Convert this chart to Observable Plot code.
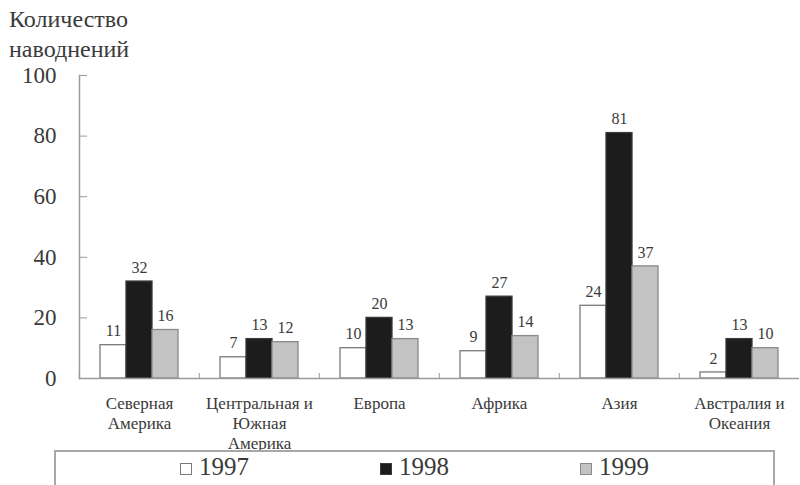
<!DOCTYPE html>
<html>
<head>
<meta charset="utf-8">
<script src="https://cdn.jsdelivr.net/npm/d3@7"></script>
<script src="https://cdn.jsdelivr.net/npm/@observablehq/plot@0.6"></script>
<style>
  body { margin: 0; background: #fff; font-family: "Liberation Serif", "Times New Roman", Tinos, "DejaVu Serif", serif; color: #3a3a3a; }
  #wrap { position: relative; width: 800px; height: 485px; overflow: hidden; }
  #chart { position: absolute; left: 0; top: 0; }
  #title { position: absolute; left: 9px; top: 4px; font-size: 24px; line-height: 30px; }
  #legend { position: absolute; left: 54px; top: 450px; width: 717px; height: 60px; background: #fff;
            border: 2px solid #a8a8a8; display: flex; justify-content: center; }
  .item { width: 200px; text-align: center; font-size: 25px; line-height: 30px; }
  .sw { display: inline-block; width: 12px; height: 12px; margin-right: 7px; vertical-align: 0px; box-sizing: border-box; }
</style>
</head>
<body>
<div id="wrap">
  <div id="chart"></div>
  <div id="title">Количество<br>наводнений</div>
  <div id="legend"></div>
</div>
<script>
// Number of floods by region, 1997–1999
const regions = ["Северная Америка", "Центральная и Южная Америка", "Европа", "Африка", "Азия", "Австралия и Океания"];
const regionLabels = ["Северная\nАмерика", "Центральная и\nЮжная\nАмерика", "Европа", "Африка", "Азия", "Австралия и\nОкеания"];
const years = ["1997", "1998", "1999"];
const floods1997 = [11, 7, 10, 9, 24, 2];
const floods1998 = [32, 13, 20, 27, 81, 13];
const floods1999 = [16, 12, 13, 14, 37, 10];
const yTicks = [0, 20, 40, 60, 80, 100];

const fills = ["#ffffff", "#1c1c1c", "#c3c3c3"];
const strokes = ["#7a7a7a", "#3a3a3a", "#8a8a8a"];

const series = [floods1997, floods1998, floods1999];
const data = [];
regions.forEach((r, i) => years.forEach((y, j) => data.push({region: r, year: y, value: series[j][i]})));

const labelOf = new Map(regions.map((r, i) => [r, regionLabels[i]]));
const textColor = "#3a3a3a";
const axisColor = "#9a9a9a";
const serif = "'Liberation Serif', 'Times New Roman', Tinos, 'DejaVu Serif', serif";

const chart = Plot.plot({
  width: 800,
  height: 462,
  marginTop: 75,
  marginBottom: 84,
  marginLeft: 78,
  marginRight: 0,
  style: {fontFamily: serif, color: textColor, background: "white"},
  fx: {domain: regions, padding: 0, label: null},
  x: {domain: years, paddingInner: 0, paddingOuter: 0.757, axis: null},
  y: {domain: [0, 100], label: null},
  color: {domain: years, range: fills},
  marks: [
    // tick labels of the value axis
    Plot.axisY({ticks: yTicks, tickSize: 0, tickPadding: 23, fontSize: 23, fill: textColor, label: null}),
    // short inward ticks of the value axis
    Plot.axisY({ticks: yTicks, tickSize: 8, dx: 8, fill: "none", stroke: axisColor, label: null}),
    // value axis line, drawn once at the left
    Plot.frame({anchor: "left", facetAnchor: "left", stroke: axisColor, strokeWidth: 1.5}),
    // region names under each group
    Plot.axisFx({anchor: "bottom", tickSize: 0, tickPadding: 16, fontSize: 17, lineHeight: 1.18, tickFormat: d => labelOf.get(d), fill: textColor, label: null}),
    // small ticks between region groups
    Plot.axisFx({anchor: "bottom", tickSize: 5, dy: -5, dx: -60.2, fill: "none", stroke: axisColor, label: null}),
    Plot.barY(data, {fx: "region", x: "year", y: "value", fill: "year", stroke: d => strokes[years.indexOf(d.year)], strokeWidth: 1.3}),
    Plot.text(data, {fx: "region", x: "year", y: "value", text: d => String(d.value), dy: -14, fontSize: 16, fill: textColor}),
    Plot.ruleY([0], {stroke: axisColor, strokeWidth: 1.5})
  ]
});
document.getElementById("chart").appendChild(chart);

// Legend below the chart
const legend = document.getElementById("legend");
years.forEach((y, j) => {
  const item = document.createElement("div");
  item.className = "item";
  const sw = document.createElement("span");
  sw.className = "sw";
  sw.style.background = fills[j];
  sw.style.border = "1px solid " + strokes[j];
  item.appendChild(sw);
  item.appendChild(document.createTextNode(y));
  legend.appendChild(item);
});
</script>
</body>
</html>
